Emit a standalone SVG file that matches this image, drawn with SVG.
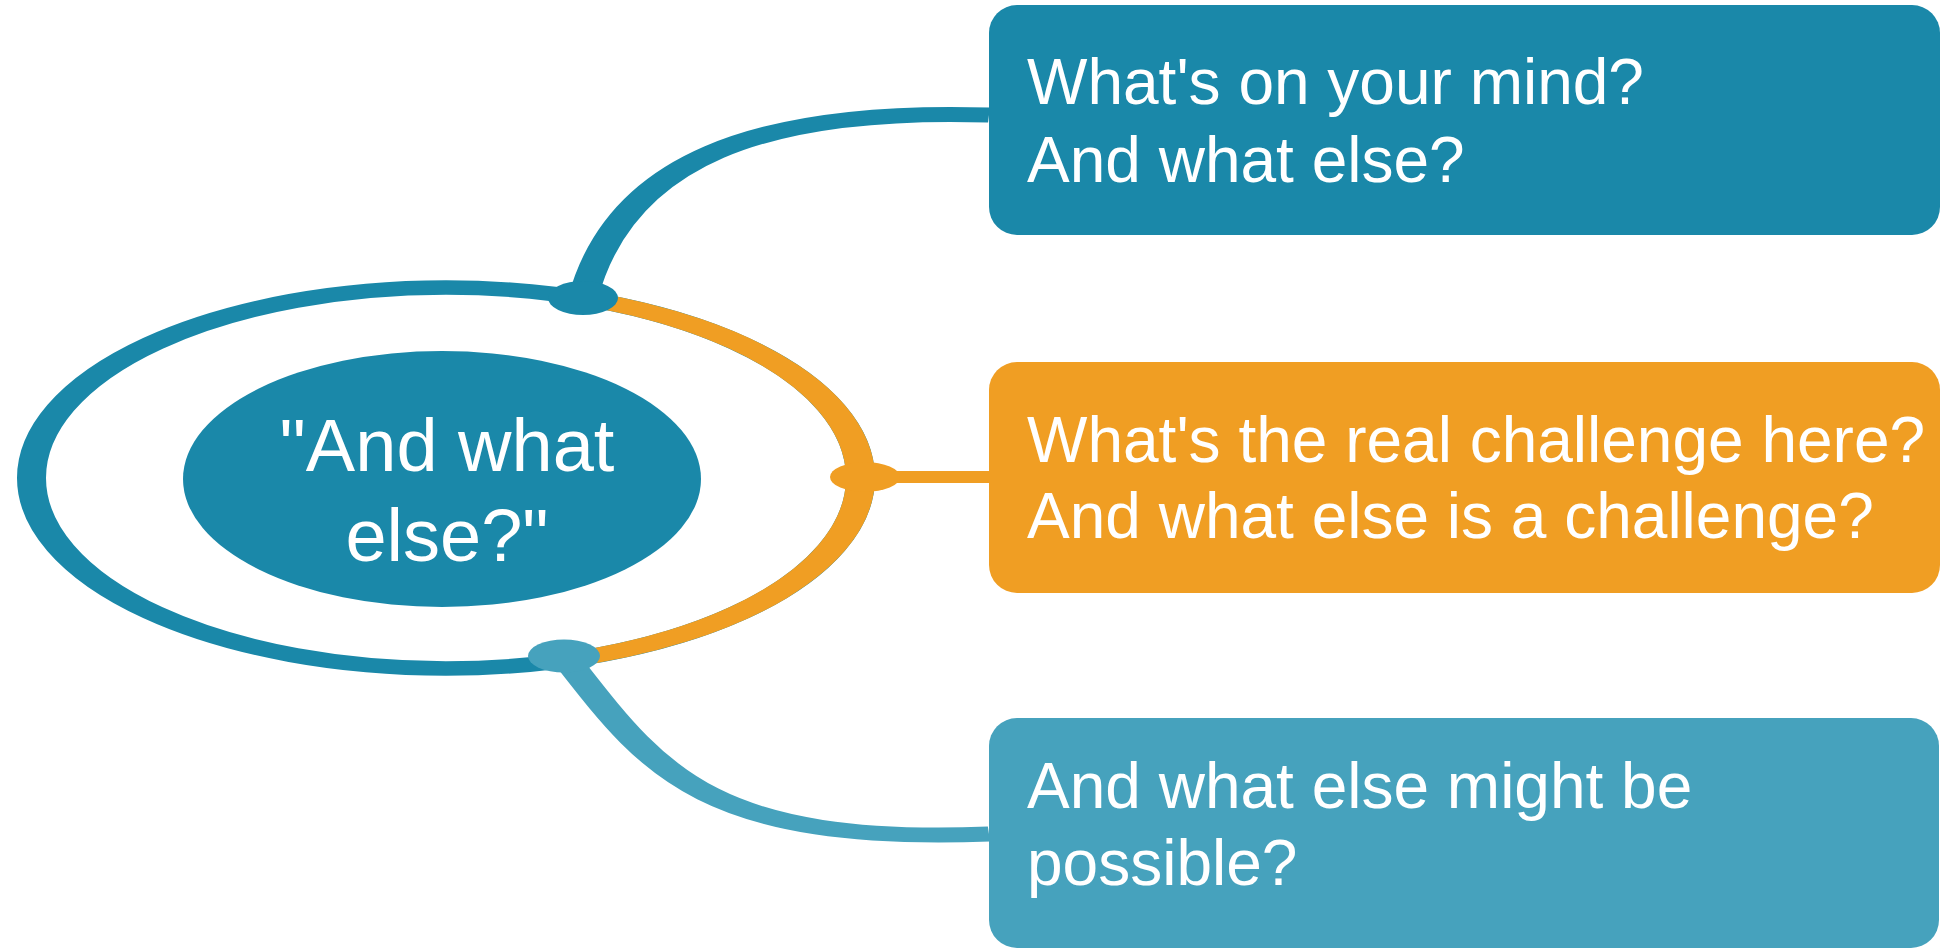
<svg xmlns="http://www.w3.org/2000/svg" width="1944" height="950" viewBox="0 0 1944 950">
<style>
.t{font-family:"Liberation Sans",Arial,sans-serif;fill:#ffffff}
.bt{font-size:64px}
.ct{font-size:74px;text-anchor:middle}
.ln{fill:none;stroke-linecap:butt}
</style>
<rect width="1944" height="950" fill="#ffffff"/>
<g id="connectors">
  <g transform="matrix(2 0 0 1 0 0)">
    <ellipse id="ring" class="ln" cx="223" cy="478" rx="207.25" ry="190.5" stroke="#1A88A9" stroke-width="14.5"/>
    <path class="ln" d="M 291.5 298.2 A 207.25 190.5 0 0 1 282 660.6" stroke="#F09E23" stroke-width="14.5"/>
    <path class="ln" d="M 430 477 L 494.5 477" stroke="#F09E23" stroke-width="12"/>
    <path class="ln" d="M 494.5 115 C 380 108 310 160 291.5 298" stroke="#1A88A9" stroke-width="15"/>
    <path class="ln" d="M 282 656 C 325 765 350 845 494.5 834" stroke="#46A2BD" stroke-width="15"/>
    <ellipse cx="291.5" cy="298" rx="17.5" ry="17" fill="#1A88A9"/>
    <ellipse cx="432.5" cy="477" rx="17.5" ry="15" fill="#F09E23"/>
    <ellipse cx="282" cy="656" rx="18" ry="16.5" fill="#46A2BD"/>
  </g>
</g>
<g id="center">
  <ellipse cx="442" cy="479" rx="259" ry="128" fill="#1A88A9"/>
  <text class="t ct" x="447" y="471">"And what</text>
  <text class="t ct" x="447" y="561">else?"</text>
</g>
<g id="box1">
  <rect x="989" y="5" width="951" height="230" rx="28" ry="28" fill="#1A88A9"/>
  <text class="t bt" x="1027" y="104">What's on your mind?</text>
  <text class="t bt" x="1027" y="182">And what else?</text>
</g>
<g id="box2">
  <rect x="989" y="362" width="951" height="231" rx="28" ry="28" fill="#F09E23"/>
  <text class="t bt" x="1027" y="462">What's the real challenge here?</text>
  <text class="t bt" x="1027" y="538">And what else is a challenge?</text>
</g>
<g id="box3">
  <rect x="989" y="718" width="950" height="230" rx="28" ry="28" fill="#46A2BD"/>
  <text class="t bt" x="1027" y="808">And what else might be</text>
  <text class="t bt" x="1027" y="885">possible?</text>
</g>
</svg>
